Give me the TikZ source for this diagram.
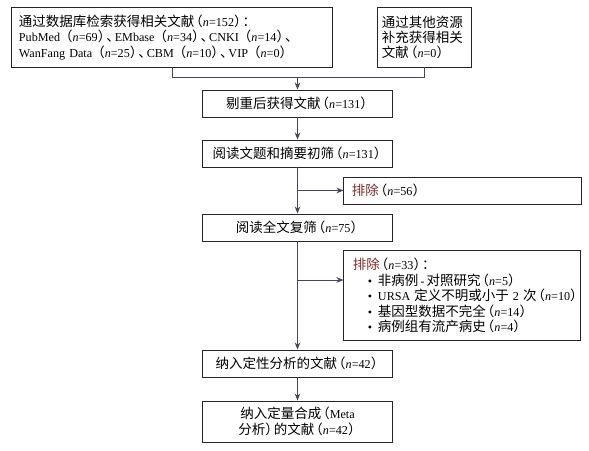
\documentclass[tikz,border=0pt]{standalone}
\usepackage{fontspec}
\setmainfont{Liberation Serif}[Scale=0.9]
\newfontfamily\cjk{Noto Sans CJK SC}
\usetikzlibrary{arrows.meta}
\definecolor{boxline}{HTML}{262428}
\definecolor{linkline}{HTML}{46435A}
\definecolor{exred}{HTML}{7E2B2B}
\newcommand{\zh}[1]{{\cjk #1}}
\newcommand{\nn}[1]{\makebox[0.7em][r]{\zh{（}}\textit{n}=#1\makebox[0.7em][l]{\zh{）}}}
\newcommand{\dun}{\makebox[0.7em][l]{\zh{、}}}
\newcommand{\pt}[1]{\hspace*{0.6cm}\makebox[0.25cm][l]{\textbullet}#1}

\begin{document}
\begin{tikzpicture}[x=0.025cm, y=-0.025cm, >={Stealth[length=5pt,width=4pt]},
    font=\fontsize{9.6}{11}\selectfont,
    box/.style={draw=boxline, line width=0.7pt, inner sep=0pt, minimum height=0.675cm},
    mainbox/.style={box, minimum width=4.725cm, align=center},
    link/.style={draw=linkline, line width=0.7pt}]
    \useasboundingbox (0,0) rectangle (589,451);

    % 文献来源
    \node[box, minimum width=8cm, minimum height=1.475cm, text width=7.65cm, align=left] (dbs) at (172,37.5)
        {\zh{通过数据库检索获得相关文献}\nn{152}\zh{：}\\
         PubMed \nn{69}\dun EMbase \nn{34}\dun CNKI \nn{14}\dun\\
         WanFang Data \nn{25}\dun CBM \nn{10}\dun VIP \nn{0}};
    \node[box, minimum width=2.35cm, minimum height=1.475cm, text width=2.1cm, align=left] (other) at (424,37.5)
        {\zh{通过其他资源}\\ \zh{补充获得相关}\\ \zh{文献}\nn{0}};

    % 主流程
    \node[mainbox] (dedup) at (297.5,103.5) {\zh{剔重后获得文献}\nn{131}};
    \node[mainbox] (screen) at (297.5,153.5) {\zh{阅读文题和摘要初筛}\nn{131}};
    \node[mainbox] (fulltext) at (297.5,227.5) {\zh{阅读全文复筛}\nn{75}};
    \node[mainbox] (qual) at (297.5,363.5) {\zh{纳入定性分析的文献}\nn{42}};
    \node[mainbox, minimum height=1.025cm, font=\fontsize{9.6}{11.4}\selectfont] (quant) at (297.5,421.5)
        {\zh{纳入定量合成}\makebox[0.7em][r]{\zh{（}}Meta\\ \zh{分析}\makebox[0.7em][l]{\zh{）}}\zh{的文献}\nn{42}};

    % 排除
    \node[box, minimum width=5.925cm, text width=5.525cm, align=left] (ex1) at (462.5,190.5)
        {\textcolor{exred}{\zh{排除}}\nn{56}};
    \node[box, minimum width=5.9cm, minimum height=2.225cm, text width=5.9cm, align=left] (ex2) at (462,295.5)
        {\hspace*{0.225cm}\textcolor{exred}{\zh{排除}}\nn{33}\zh{：}\\
         \pt{\zh{非病例}\,-\,\zh{对照研究}\nn{5}}\\
         \pt{\mbox{URSA \zh{定义不明或小于} 2 \zh{次}\nn{10}}}\\
         \pt{\zh{基因型数据不完全}\nn{14}}\\
         \pt{\zh{病例组有流产病史}\nn{4}}};

    % 连线
    \coordinate (join) at (297.5,77);
    \draw[link] (dbs.south) -- (dbs.south |- join) -- (other.south |- join) -- (other.south);
    \draw[link,->] (join) -- (dedup.north);
    \draw[link,->] (dedup.south) -- (screen.north);
    \draw[link,->] (screen.south) -- (fulltext.north);
    \draw[link,->] (screen.south |- ex1.west) -- (ex1.west);
    \draw[link,->] (fulltext.south) -- (qual.north);
    \coordinate (cut) at (297.5,280);
    \draw[link,->] (cut) -- (cut -| ex2.west);
    \draw[link,->] (qual.south) -- (quant.north);
\end{tikzpicture}
\end{document}
